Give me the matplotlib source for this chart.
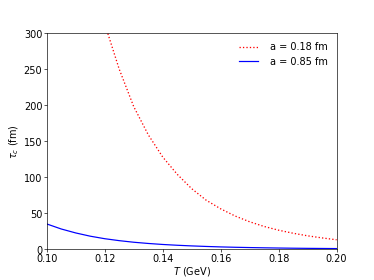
import numpy as np
import matplotlib
matplotlib.use("Agg")
import matplotlib.pyplot as plt

# temperature grid (GeV)
T = [0.100, 0.105, 0.110, 0.115, 0.120, 0.125, 0.130, 0.135, 0.140, 0.145,
     0.150, 0.155, 0.160, 0.165, 0.170, 0.175, 0.180, 0.185, 0.190, 0.195, 0.200]

# tau_c (fm) for a = 0.18 fm (goes off the top below T ~ 0.12)
tau_a018 = [np.nan, np.nan, np.nan, np.nan, 313, 250, 198, 159, 128, 104,
            84, 68, 56, 46, 38, 31.5, 26.3, 22.1, 18.5, 15.6, 13.0]

# tau_c (fm) for a = 0.85 fm
tau_a085 = [35, 28, 22.5, 18, 14.5, 11.8, 9.6, 7.9, 6.5, 5.4,
            4.5, 3.75, 3.1, 2.6, 2.2, 1.85, 1.55, 1.3, 1.1, 0.95, 0.8]

labels = ["a = 0.18 fm", "a = 0.85 fm"]

plt.rcParams["font.size"] = 12
DPI = 374 / 6.4

fig = plt.figure(figsize=(6.4, 4.8), dpi=DPI)
ax = fig.add_subplot(111)

ax.plot(T, tau_a018, ":", color="red", lw=1.6, label=labels[0])
ax.plot(T, tau_a085, "-", color="blue", lw=1.5, label=labels[1])

ax.set_xlim(0.10, 0.20)
ax.set_ylim(0, 300)
ax.set_xticks([0.10, 0.12, 0.14, 0.16, 0.18, 0.20])
ax.tick_params(length=3.5, pad=2)
ax.set_xlabel("$T$ (GeV)", labelpad=1)
ax.set_ylabel(r"$\tau_c$ (fm)", labelpad=3)
ax.legend(frameon=False, loc="upper right", handletextpad=1.2)

fig.savefig("out.png", dpi=DPI)
